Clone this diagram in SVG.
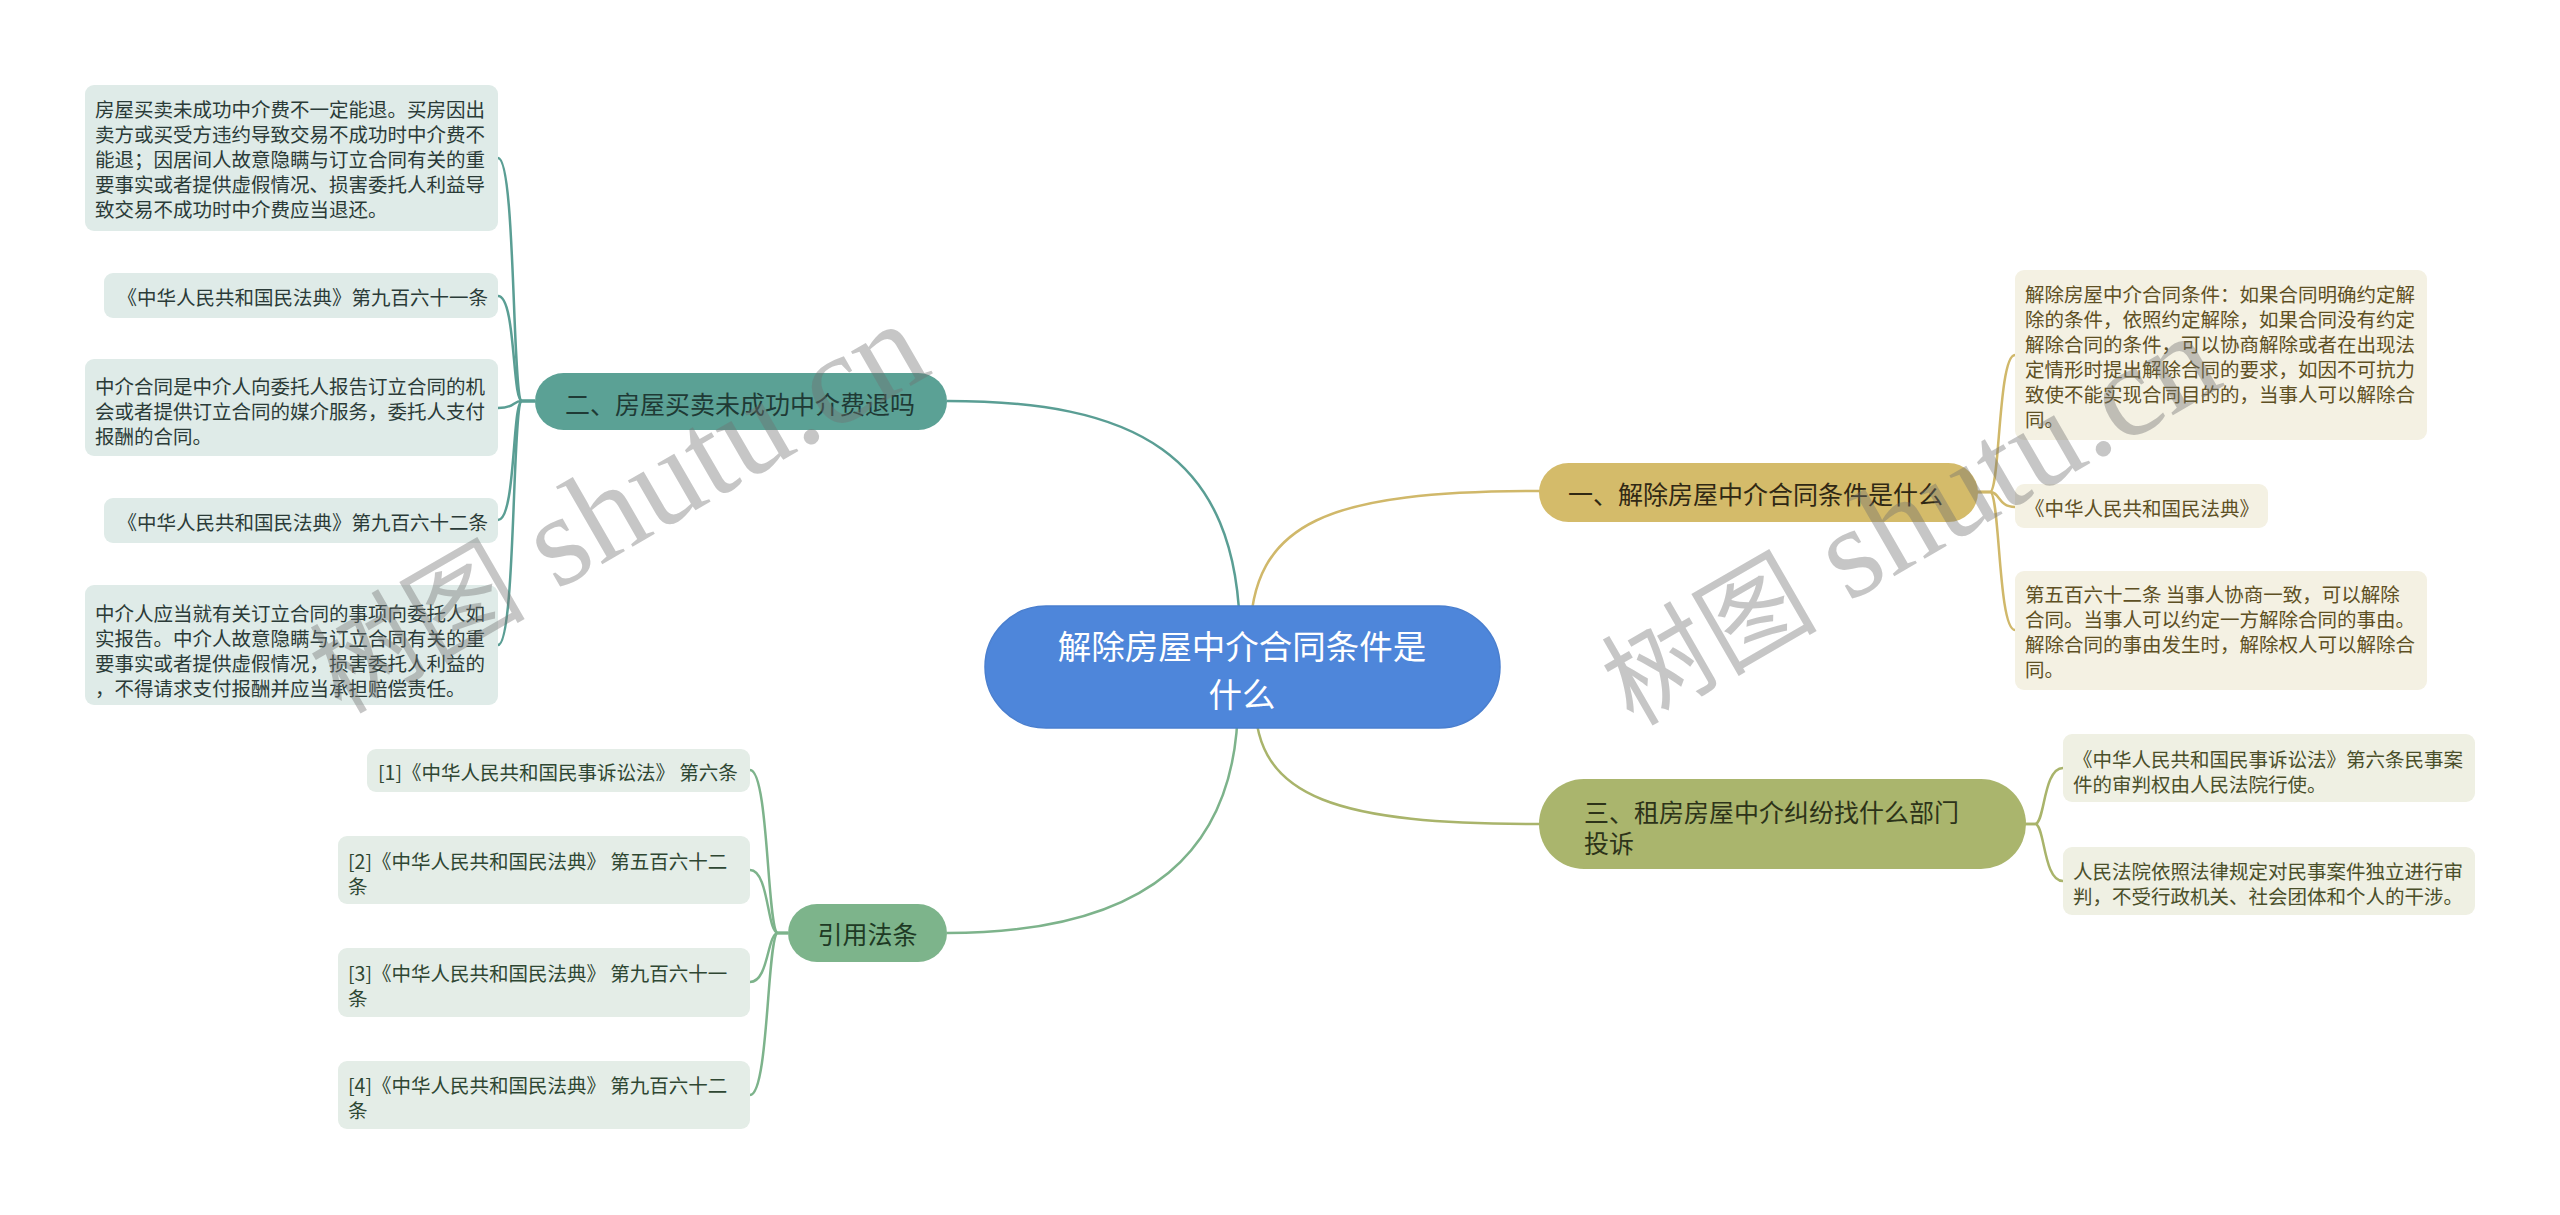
<svg xmlns="http://www.w3.org/2000/svg" width="2560" height="1215" viewBox="0 0 2560 1215">
<style>
text{font-family:"Noto Sans CJK SC","Noto Sans",sans-serif;dominant-baseline:central}
.leaf{font-size:19.5px}
.br{font-size:25px}
.c-teal{fill:none;stroke:#5a9e94;stroke-width:2.5}
.c-gold{fill:none;stroke:#d0b86a;stroke-width:2.5}
.c-olive{fill:none;stroke:#a9b46b;stroke-width:2.5}
.c-green{fill:none;stroke:#7db38b;stroke-width:2.5}
.lt{fill:#dfebe8}
.lg{fill:#e4ede7}
.rg{fill:#f4f1e3}
.ro{fill:#eff0e3}
.tt{fill:#2b3b38}
.tg{fill:#2f4733}
.tgo{fill:#5e5024}
.to{fill:#4a4f2a}
.wm{font-family:"Liberation Serif","Noto Sans CJK SC",serif;font-size:130px;fill:#707070;fill-opacity:0.4;dominant-baseline:alphabetic}
.wmc{font-size:108px}
</style>
<rect width="2560" height="1215" fill="#ffffff"/>
<g id="connectors">
<path class="c-teal" d="M1240 640 C1240 450,1130 401,947 401"/>
<path class="c-gold" d="M1250 640 C1250 520,1330 491,1540 491"/>
<path class="c-olive" d="M1255 700 C1255 800,1340 824,1540 824"/>
<path class="c-green" d="M1238 700 C1238 850,1150 933,947 933"/>
<path class="c-teal" d="M535 401 L522 401 C512 401,516 158,498 158"/>
<path class="c-teal" d="M535 401 L522 401 C512 401,516 296,498 296"/>
<path class="c-teal" d="M535 401 L522 401 C512 401,516 408,498 408"/>
<path class="c-teal" d="M535 401 L522 401 C512 401,516 520,498 520"/>
<path class="c-teal" d="M535 401 L522 401 C512 401,516 645,498 645"/>
<path class="c-gold" d="M1977 492 L1990 492 C2000 492,1998 355,2015 355"/>
<path class="c-gold" d="M1977 492 L1990 492 C2000 492,1998 507,2015 507"/>
<path class="c-gold" d="M1977 492 L1990 492 C2000 492,1998 630,2015 630"/>
<path class="c-olive" d="M2025 824 L2035 824 C2045 824,2043 768,2063 768"/>
<path class="c-olive" d="M2025 824 L2035 824 C2045 824,2043 881,2063 881"/>
<path class="c-green" d="M788 933 L778 933 C767 933,769 770,750 770"/>
<path class="c-green" d="M788 933 L778 933 C767 933,769 870,750 870"/>
<path class="c-green" d="M788 933 L778 933 C767 933,769 982,750 982"/>
<path class="c-green" d="M788 933 L778 933 C767 933,769 1095,750 1095"/>
</g>
<g id="central">
<rect x="985" y="606" width="515" height="122" rx="61" fill="#4e86da" stroke="#4a7fcf" stroke-width="1.5"/>
<text x="1242" y="644" text-anchor="middle" font-size="33.5" fill="#ffffff">解除房屋中介合同条件是</text>
<text x="1242" y="692" text-anchor="middle" font-size="33.5" fill="#ffffff">什么</text>
</g>
<g id="b1">
<rect x="1539" y="463" width="439" height="59" rx="29.5" fill="#d4bb6a"/>
<text class="br" x="1568" y="493" fill="#302814">一、解除房屋中介合同条件是什么</text>
</g>
<g id="b1-1">
<rect class="rg" x="2015" y="270" width="412" height="170" rx="9"/>
<text class="leaf tgo" x="2025" y="293">解除房屋中介合同条件：如果合同明确约定解</text>
<text class="leaf tgo" x="2025" y="318">除的条件，依照约定解除，如果合同没有约定</text>
<text class="leaf tgo" x="2025" y="343">解除合同的条件，可以协商解除或者在出现法</text>
<text class="leaf tgo" x="2025" y="368">定情形时提出解除合同的要求，如因不可抗力</text>
<text class="leaf tgo" x="2025" y="393">致使不能实现合同目的的，当事人可以解除合</text>
<text class="leaf tgo" x="2025" y="418">同。</text>
</g>
<g id="b1-2">
<rect class="rg" x="2015" y="484" width="253" height="44" rx="9"/>
<text class="leaf tgo" x="2025" y="507">《中华人民共和国民法典》</text>
</g>
<g id="b1-3">
<rect class="rg" x="2015" y="571" width="412" height="119" rx="9"/>
<text class="leaf tgo" x="2025" y="593">第五百六十二条 当事人协商一致，可以解除</text>
<text class="leaf tgo" x="2025" y="618">合同。当事人可以约定一方解除合同的事由。</text>
<text class="leaf tgo" x="2025" y="643">解除合同的事由发生时，解除权人可以解除合</text>
<text class="leaf tgo" x="2025" y="668">同。</text>
</g>
<g id="b2">
<rect x="535" y="373" width="412" height="57" rx="28.5" fill="#5ba195"/>
<text class="br" x="565" y="403" fill="#1f3a35">二、房屋买卖未成功中介费退吗</text>
</g>
<g id="b2-1">
<rect class="lt" x="85" y="85" width="413" height="146" rx="9"/>
<text class="leaf tt" x="95" y="108.5">房屋买卖未成功中介费不一定能退。买房因出</text>
<text class="leaf tt" x="95" y="133.5">卖方或买受方违约导致交易不成功时中介费不</text>
<text class="leaf tt" x="95" y="158.5">能退；因居间人故意隐瞒与订立合同有关的重</text>
<text class="leaf tt" x="95" y="183.5">要事实或者提供虚假情况、损害委托人利益导</text>
<text class="leaf tt" x="95" y="208.5">致交易不成功时中介费应当退还。</text>
</g>
<g id="b2-2">
<rect class="lt" x="104" y="273" width="394" height="45" rx="9"/>
<text class="leaf tt" x="488" y="296" text-anchor="end">《中华人民共和国民法典》第九百六十一条</text>
</g>
<g id="b2-3">
<rect class="lt" x="85" y="359" width="413" height="97" rx="9"/>
<text class="leaf tt" x="95" y="385">中介合同是中介人向委托人报告订立合同的机</text>
<text class="leaf tt" x="95" y="410">会或者提供订立合同的媒介服务，委托人支付</text>
<text class="leaf tt" x="95" y="435">报酬的合同。</text>
</g>
<g id="b2-4">
<rect class="lt" x="104" y="498" width="394" height="45" rx="9"/>
<text class="leaf tt" x="488" y="521" text-anchor="end">《中华人民共和国民法典》第九百六十二条</text>
</g>
<g id="b2-5">
<rect class="lt" x="85" y="585" width="413" height="120" rx="9"/>
<text class="leaf tt" x="95" y="612">中介人应当就有关订立合同的事项向委托人如</text>
<text class="leaf tt" x="95" y="637">实报告。中介人故意隐瞒与订立合同有关的重</text>
<text class="leaf tt" x="95" y="662">要事实或者提供虚假情况，损害委托人利益的</text>
<text class="leaf tt" x="95" y="687">，不得请求支付报酬并应当承担赔偿责任。</text>
</g>
<g id="b3">
<rect x="1539" y="779" width="487" height="90" rx="45" fill="#aab56d"/>
<text class="br" x="1584" y="811" fill="#2d3319">三、租房房屋中介纠纷找什么部门</text>
<text class="br" x="1584" y="842" fill="#2d3319">投诉</text>
</g>
<g id="b3-1">
<rect class="ro" x="2063" y="734" width="412" height="68" rx="9"/>
<text class="leaf to" x="2073" y="758">《中华人民共和国民事诉讼法》第六条民事案</text>
<text class="leaf to" x="2073" y="783">件的审判权由人民法院行使。</text>
</g>
<g id="b3-2">
<rect class="ro" x="2063" y="847" width="412" height="68" rx="9"/>
<text class="leaf to" x="2073" y="870">人民法院依照法律规定对民事案件独立进行审</text>
<text class="leaf to" x="2073" y="895">判，不受行政机关、社会团体和个人的干涉。</text>
</g>
<g id="b4">
<rect x="788" y="904" width="159" height="58" rx="29" fill="#7db48b"/>
<text class="br" x="867.5" y="933" text-anchor="middle" fill="#1e3a24">引用法条</text>
</g>
<g id="b4-1">
<rect class="lg" x="367" y="749" width="383" height="43" rx="9"/>
<text class="leaf tg" x="378" y="771">[1]《中华人民共和国民事诉讼法》 第六条</text>
</g>
<g id="b4-2">
<rect class="lg" x="338" y="836" width="412" height="68" rx="9"/>
<text class="leaf tg" x="348" y="860">[2]《中华人民共和国民法典》 第五百六十二</text>
<text class="leaf tg" x="348" y="885">条</text>
</g>
<g id="b4-3">
<rect class="lg" x="338" y="948" width="412" height="69" rx="9"/>
<text class="leaf tg" x="348" y="972">[3]《中华人民共和国民法典》 第九百六十一</text>
<text class="leaf tg" x="348" y="997">条</text>
</g>
<g id="b4-4">
<rect class="lg" x="338" y="1061" width="412" height="68" rx="9"/>
<text class="leaf tg" x="348" y="1084">[4]《中华人民共和国民法典》 第九百六十二</text>
<text class="leaf tg" x="348" y="1109">条</text>
</g>
<g id="watermarks">
<text class="wm" transform="translate(341 715) rotate(-30)"><tspan class="wmc">树图</tspan> shutu.cn</text>
<text class="wm" transform="translate(1633 727) rotate(-30)"><tspan class="wmc">树图</tspan> shutu.cn</text>
</g>
</svg>
